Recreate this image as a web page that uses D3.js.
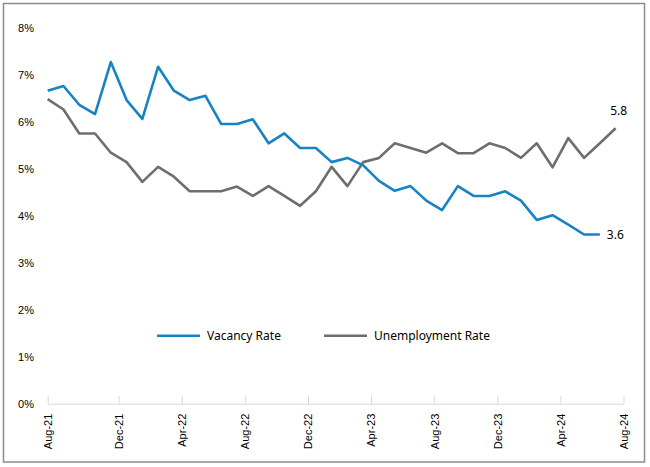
<!DOCTYPE html>
<html>
<head>
<meta charset="utf-8">
<script src="https://cdn.jsdelivr.net/npm/d3@7"></script>
<style>
  body { margin: 0; background: #fff; }
  svg { display: block; font-family: "Noto Sans", Lato, sans-serif; }
</style>
</head>
<body>
<svg width="650" height="467"></svg>
<script>
// months Aug-21 .. Aug-24
var months = ["Aug-21","Sep-21","Oct-21","Nov-21","Dec-21","Jan-22","Feb-22","Mar-22","Apr-22","May-22","Jun-22","Jul-22",
  "Aug-22","Sep-22","Oct-22","Nov-22","Dec-22","Jan-23","Feb-23","Mar-23","Apr-23","May-23","Jun-23","Jul-23",
  "Aug-23","Sep-23","Oct-23","Nov-23","Dec-23","Jan-24","Feb-24","Mar-24","Apr-24","May-24","Jun-24","Jul-24","Aug-24"];

var vacancy = [6.66, 6.76, 6.36, 6.16, 7.27, 6.46, 6.06, 7.17, 6.66, 6.46, 6.55, 5.95,
  5.95, 6.05, 5.54, 5.75, 5.44, 5.44, 5.14, 5.23, 5.07, 4.74, 4.53, 4.63,
  4.32, 4.12, 4.63, 4.42, 4.42, 4.52, 4.32, 3.91, 4.01, 3.81, 3.6, 3.6];

var unemployment = [6.48, 6.26, 5.75, 5.75, 5.34, 5.14, 4.72, 5.04, 4.83, 4.52, 4.52, 4.52,
  4.62, 4.42, 4.63, 4.42, 4.21, 4.52, 5.04, 4.63, 5.14, 5.23, 5.54, 5.44,
  5.34, 5.54, 5.33, 5.33, 5.54, 5.44, 5.23, 5.54, 5.03, 5.65, 5.23, 5.54, 5.86];

var tickLabels = ["Aug-21","Dec-21","Apr-22","Aug-22","Dec-22","Apr-23","Aug-23","Dec-23","Apr-24","Aug-24"];
var yTicks = [0, 1, 2, 3, 4, 5, 6, 7, 8];

var svg = d3.select("svg");

// outer frame
svg.append("rect")
  .attr("x", 3.5).attr("y", 3.5)
  .attr("width", 641).attr("height", 458.5)
  .attr("fill", "none")
  .attr("stroke", "#8c8c8c")
  .attr("stroke-width", 1.5);

var x = d3.scaleLinear()
  .domain([0, months.length - 0.5])
  .range([47.7, 623.5]);

var y = d3.scaleLinear()
  .domain([0, 8])
  .range([403.7, 27.7]);

// tick positions sit on month boundaries (first one at axis start)
var tickPos = tickLabels.map(function (m, i) {
  return i === 0 ? 0 : months.indexOf(m) + 0.5;
});

var xAxis = svg.append("g")
  .attr("transform", "translate(0," + y(0) + ")")
  .call(d3.axisBottom(x)
    .tickValues(tickPos)
    .tickSize(-8)
    .tickSizeOuter(0)
    .tickFormat(function (d, i) { return tickLabels[i]; }));

xAxis.select(".domain").attr("stroke", "#d9d9d9");
xAxis.selectAll(".tick line").attr("stroke", "#d9d9d9");
xAxis.selectAll(".tick text")
  .attr("fill", "#000")
  .style("font-size", "11px")
  .attr("transform", "rotate(-90)")
  .attr("text-anchor", "end")
  .attr("x", -10)
  .attr("y", 0)
  .attr("dy", "0.35em");

var yAxis = svg.append("g")
  .attr("transform", "translate(34,0)")
  .call(d3.axisLeft(y)
    .tickValues(yTicks)
    .tickSize(0)
    .tickFormat(function (d) { return d + "%"; }));

yAxis.select(".domain").remove();
yAxis.selectAll(".tick text")
  .attr("fill", "#000")
  .attr("x", 0)
  .style("font-size", "11px");

var line = d3.line()
  .x(function (d, i) { return x(i); })
  .y(function (d) { return y(d); });

svg.append("path")
  .datum(unemployment)
  .attr("fill", "none")
  .attr("stroke", "#6e6e6e")
  .attr("stroke-width", 2.6)
  .attr("stroke-linejoin", "round")
  .attr("d", line);

svg.append("path")
  .datum(vacancy)
  .attr("fill", "none")
  .attr("stroke", "#1683c4")
  .attr("stroke-width", 2.6)
  .attr("stroke-linejoin", "round")
  .attr("d", line);

// end labels (one decimal, truncated)
function lbl(v) { return (Math.floor(v * 10 + 1e-6) / 10).toFixed(1); }
var lastU = unemployment.length - 1, lastV = vacancy.length - 1;
svg.append("text")
  .attr("x", x(lastU) + 3)
  .attr("y", y(unemployment[lastU]) - 13)
  .attr("text-anchor", "middle")
  .style("font-size", "12px")
  .text(lbl(unemployment[lastU]));

svg.append("text")
  .attr("x", x(lastV) + 7)
  .attr("y", y(vacancy[lastV]))
  .attr("dy", "0.35em")
  .style("font-size", "12px")
  .text(lbl(vacancy[lastV]));

// legend
var legend = [
  { name: "Vacancy Rate", color: "#1683c4", x: 157 },
  { name: "Unemployment Rate", color: "#6e6e6e", x: 324 }
];
var lg = svg.append("g").attr("transform", "translate(0,335.7)");
legend.forEach(function (l) {
  lg.append("line")
    .attr("x1", l.x).attr("x2", l.x + 43)
    .attr("stroke", l.color)
    .attr("stroke-width", 2.6);
  lg.append("text")
    .attr("x", l.x + 50)
    .attr("dy", "0.35em")
    .style("font-size", "12px")
    .text(l.name);
});
</script>
</body>
</html>
